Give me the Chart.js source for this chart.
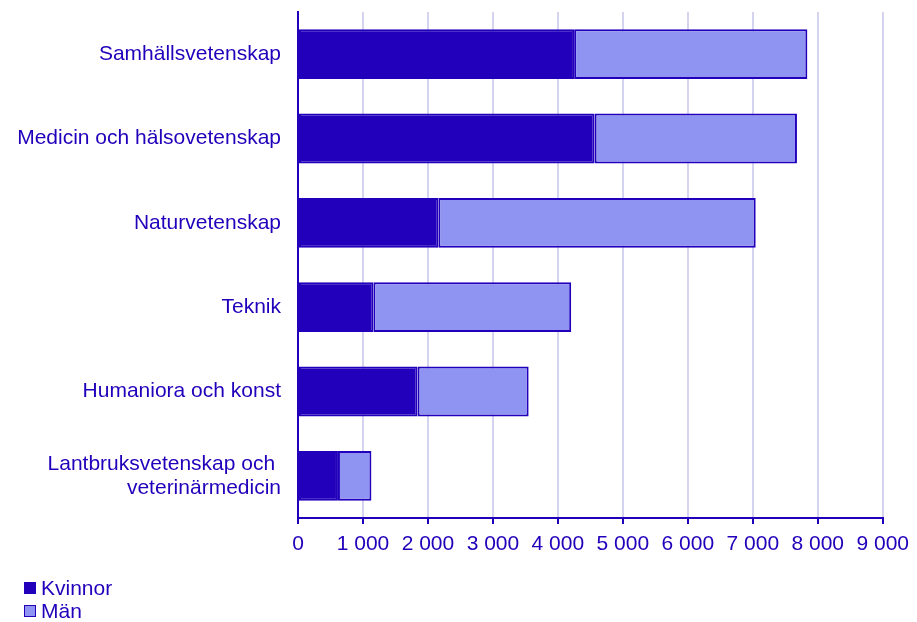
<!DOCTYPE html>
<html>
<head>
<meta charset="utf-8">
<script src="https://cdn.jsdelivr.net/npm/chart.js@4"></script>
<style>
  body { margin: 0; background: #fff; }
  #wrap { position: relative; width: 917px; height: 622px; }
  #legend { position: absolute; left: 24px; top: 576px; font-family: "Liberation Sans", Arial, sans-serif; font-size: 21px; color: #2200bb; }
  .row { display: flex; align-items: center; height: 23.5px; }
  .box { width: 10px; height: 10px; border: 1px solid #2200bb; margin-right: 5px; }
</style>
</head>
<body>
<div id="wrap">
  <canvas id="chart" width="917" height="622"></canvas>
  <div id="legend"></div>
</div>
<script>
// Data
const categories = [
    'Samhällsvetenskap',
    'Medicin och hälsovetenskap',
    'Naturvetenskap',
    'Teknik',
    'Humaniora och konst',
    ['Lantbruksvetenskap och ', 'veterinärmedicin']
];
const kvinnor = [4250, 4565, 2160, 1160, 1840, 615];
const man = [3590, 3115, 4885, 3045, 1710, 515];
const xTicks = [0, 1000, 2000, 3000, 4000, 5000, 6000, 7000, 8000, 9000];

const dark = '#2200bb';
const light = '#8f94f2';
const fontFamily = '"Liberation Sans", Arial, sans-serif';

const datasets = [
    { label: 'Kvinnor', data: kvinnor, backgroundColor: dark },
    { label: 'Män', data: man, backgroundColor: light }
].map(d => Object.assign(d, {
    borderColor: dark,
    borderWidth: 2,
    borderSkipped: false,
    categoryPercentage: 1,
    barPercentage: 0.59
}));

const ctx = document.getElementById('chart').getContext('2d');
const chart = new Chart(ctx, {
    type: 'bar',
    data: { labels: categories, datasets: datasets },
    options: {
        indexAxis: 'y',
        responsive: false,
        animation: false,
        layout: { padding: { top: 12, right: 34, left: 0, bottom: 0 } },
        plugins: {
            legend: { display: false },
            tooltip: { enabled: false }
        },
        scales: {
            x: {
                stacked: true,
                min: 0,
                max: 9000,
                afterBuildTicks: scale => { scale.ticks = xTicks.map(v => ({ value: v })); },
                afterFit: scale => { scale.height = 104; },
                grid: { color: '#d4d4f0', lineWidth: 2, tickColor: dark, tickLength: 6 },
                border: { color: dark, width: 2 },
                ticks: {
                    color: dark,
                    padding: 8,
                    font: { family: fontFamily, size: 21 },
                    callback: v => String(v).replace(/\B(?=(\d{3})+(?!\d))/g, ' ')
                }
            },
            y: {
                stacked: true,
                afterFit: scale => {
                    scale.width = 298;
                    scale.paddingTop = 0;
                    scale.paddingBottom = 0;
                },
                grid: { display: false, drawTicks: false },
                border: { color: dark, width: 2 },
                ticks: {
                    color: dark,
                    padding: 17,
                    font: { family: fontFamily, size: 21, lineHeight: 1.15 }
                }
            }
        }
    }
});

// legend stacked vertically at bottom left
const legend = document.getElementById('legend');
datasets.forEach(d => {
    const row = document.createElement('div');
    row.className = 'row';
    const box = document.createElement('span');
    box.className = 'box';
    box.style.background = d.backgroundColor;
    const txt = document.createElement('span');
    txt.textContent = d.label;
    row.appendChild(box);
    row.appendChild(txt);
    legend.appendChild(row);
});
</script>
</body>
</html>
